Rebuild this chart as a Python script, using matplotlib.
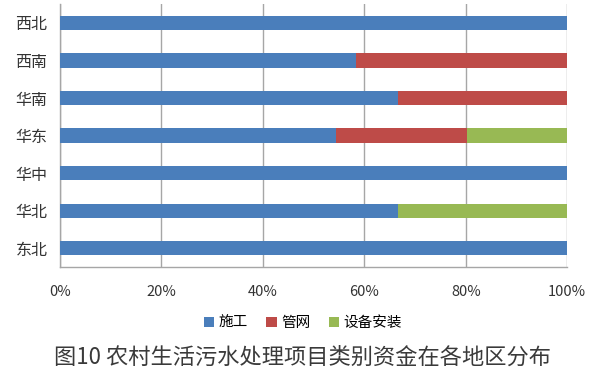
import matplotlib
matplotlib.use("Agg")
import matplotlib.pyplot as plt
import numpy as np
from matplotlib.ticker import PercentFormatter

plt.rcParams['font.family'] = ['Noto Sans CJK SC', 'DejaVu Sans']

# regions, listed bottom to top as they are drawn
regions = ['东北', '华北', '华中', '华东', '华南', '西南', '西北']
construction = [1.0, 0.667, 1.0, 0.544, 0.667, 0.584, 1.0]
pipe_network = [0.0, 0.0, 0.0, 0.258, 0.333, 0.416, 0.0]
equipment = [0.0, 0.333, 0.0, 0.198, 0.0, 0.0, 0.0]
series_names = ['施工', '管网', '设备安装']
colors = ['#4A7EBB', '#BE4B48', '#98B954']
title = '图10 农村生活污水处理项目类别资金在各地区分布'

fig = plt.figure(figsize=(5.94, 3.74), dpi=100)
ax = fig.add_axes([0.101, 0.286, 0.854, 0.703])

y = np.arange(len(regions))
left = np.zeros(len(regions))
for vals, name, col in zip([construction, pipe_network, equipment], series_names, colors):
    vals = np.array(vals)
    ax.barh(y, vals, left=left, height=0.38, color=col, label=name, zorder=3)
    left += vals

ax.set_xlim(0, 1)
ax.set_ylim(-0.5, len(regions) - 0.5)
ax.set_yticks(y)
ax.set_yticklabels(regions, fontsize=11.5, color='#333333')
ax.set_xticks(np.linspace(0, 1, 6))
ax.xaxis.set_major_formatter(PercentFormatter(1.0, decimals=0))
ax.tick_params(axis='x', labelsize=10.5, colors='#333333', length=0, pad=13)
ax.tick_params(axis='y', length=0, pad=9)

ax.grid(axis='x', color='#a6a6a6', linewidth=1, zorder=0)
for side in ['top', 'right']:
    ax.spines[side].set_visible(False)
for side in ['left', 'bottom']:
    ax.spines[side].set_color('#a6a6a6')
    ax.spines[side].set_linewidth(1)

fig.legend(loc='center', bbox_to_anchor=(0.51, 0.136), ncol=3, frameon=False,
           fontsize=10.5, handlelength=0.7, handleheight=0.7, handletextpad=0.3,
           columnspacing=1.3)

fig.text(0.51, 0.045, title, ha='center', va='center', fontsize=16, color='#3a3a3a')

fig.savefig('out.png', dpi=100)
